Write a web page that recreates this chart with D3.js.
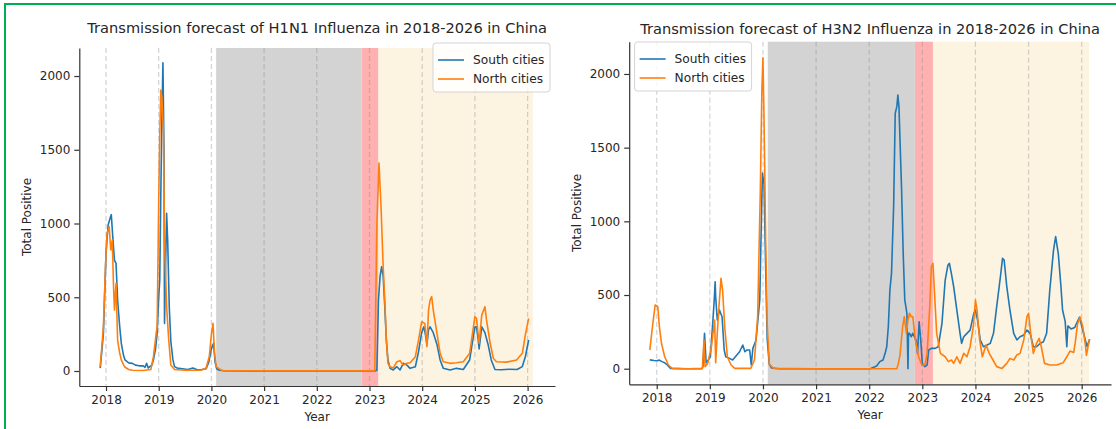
<!DOCTYPE html>
<html>
<head>
<meta charset="utf-8">
<script src="https://cdn.jsdelivr.net/npm/d3@7"></script>
<style>
  body { margin: 0; background: #fff; }
  text { font-family: "DejaVu Sans", sans-serif; fill: #262626; }
</style>
</head>
<body>
<svg id="drawing_region"></svg>
<script>
// tick values
const years = [2018, 2019, 2020, 2021, 2022, 2023, 2024, 2025, 2026];
const yTicks = [0, 500, 1000, 1500, 2000];
const seriesNames = ['South cities', 'North cities'];

// shaded periods: [covid gap, transition, forecast]
const h1n1Periods = [[2020.09, 2022.85], [2022.85, 2023.17], [2023.17, 2026.1]];
const h3n2Periods = [[2020.09, 2022.86], [2022.86, 2023.2], [2023.2, 2026.14]];

// H1N1 [year, total positive]
const h1n1South = [[2017.89, 20], [2017.95, 250], [2018.0, 800], [2018.04, 990], [2018.08, 1040], [2018.1, 1060], [2018.13, 900],
  [2018.16, 752], [2018.19, 730], [2018.22, 481], [2018.26, 300], [2018.29, 188], [2018.33, 110], [2018.36, 75], [2018.43, 55],
  [2018.5, 52], [2018.56, 40], [2018.63, 35], [2018.7, 36], [2018.74, 25], [2018.77, 52], [2018.8, 20], [2018.83, 29], [2018.87, 40],
  [2018.9, 75], [2018.94, 150], [2018.97, 255], [2019.0, 500], [2019.02, 620], [2019.04, 1200], [2019.06, 1700], [2019.08, 2090],
  [2019.1, 1500], [2019.11, 323], [2019.13, 700], [2019.15, 1069], [2019.17, 888], [2019.2, 436], [2019.23, 200], [2019.27, 75],
  [2019.3, 30], [2019.35, 20], [2019.45, 15], [2019.55, 10], [2019.65, 20], [2019.72, 10], [2019.8, 8], [2019.9, 15], [2019.95, 60],
  [2020.0, 150], [2020.04, 188], [2020.07, 60], [2020.1, 15], [2020.15, 5], [2020.25, 2], [2021.0, 0], [2022.0, 0], [2022.9, 0],
  [2023.1, 0], [2023.14, 5], [2023.17, 481], [2023.2, 640], [2023.23, 707], [2023.26, 640], [2023.29, 436], [2023.32, 210],
  [2023.35, 75], [2023.39, 18], [2023.45, 7], [2023.52, 29], [2023.58, 7], [2023.64, 52], [2023.71, 40], [2023.77, 18], [2023.87, 29],
  [2023.93, 130], [2023.99, 260], [2024.03, 300], [2024.06, 250], [2024.09, 180], [2024.12, 280], [2024.15, 300], [2024.21, 260],
  [2024.28, 180], [2024.34, 75], [2024.4, 18], [2024.53, 7], [2024.65, 18], [2024.78, 10], [2024.9, 75], [2025.0, 300], [2025.03, 300],
  [2025.06, 220], [2025.08, 150], [2025.13, 300], [2025.19, 260], [2025.25, 180], [2025.31, 75], [2025.38, 10], [2025.5, 8],
  [2025.65, 12], [2025.8, 10], [2025.9, 30], [2025.96, 100], [2026.02, 210]];

const h1n1North = [[2017.89, 29], [2017.95, 300], [2018.0, 800], [2018.02, 933], [2018.06, 978], [2018.09, 820], [2018.12, 888],
  [2018.14, 600], [2018.16, 413], [2018.19, 594], [2018.22, 210], [2018.26, 120], [2018.29, 75], [2018.35, 29], [2018.43, 10],
  [2018.5, 5], [2018.7, 3], [2018.85, 10], [2018.9, 97], [2018.95, 250], [2018.97, 300], [2019.0, 1159], [2019.02, 1600],
  [2019.04, 1905], [2019.06, 1860], [2019.09, 1611], [2019.11, 888], [2019.13, 662], [2019.15, 436], [2019.19, 210], [2019.23, 40],
  [2019.3, 10], [2019.5, 5], [2019.8, 5], [2019.9, 20], [2019.96, 100], [2020.0, 250], [2020.03, 323], [2020.06, 120], [2020.09, 30],
  [2020.13, 20], [2020.2, 3], [2021.0, 1], [2022.0, 1], [2023.1, 1], [2023.14, 1000], [2023.18, 1410], [2023.22, 1100],
  [2023.26, 700], [2023.29, 481], [2023.32, 210], [2023.35, 52], [2023.39, 29], [2023.45, 20], [2023.52, 63], [2023.58, 70],
  [2023.64, 40], [2023.71, 52], [2023.77, 56], [2023.87, 97], [2023.93, 210], [2023.99, 334], [2024.05, 323], [2024.09, 165],
  [2024.12, 413], [2024.15, 481], [2024.18, 504], [2024.21, 413], [2024.28, 255], [2024.34, 120], [2024.4, 63], [2024.53, 52],
  [2024.65, 56], [2024.78, 63], [2024.9, 120], [2025.0, 368], [2025.03, 357], [2025.08, 188], [2025.13, 379], [2025.19, 436],
  [2025.22, 346], [2025.29, 188], [2025.35, 86], [2025.41, 63], [2025.6, 60], [2025.79, 75], [2025.9, 120], [2025.96, 250],
  [2026.02, 357]];

// H3N2 [year, total positive]
const h3n2South = [[2017.87, 60], [2017.95, 56], [2018.0, 54], [2018.05, 58], [2018.1, 48], [2018.15, 40], [2018.2, 25],
  [2018.26, 2], [2018.5, 0], [2018.85, 0], [2018.87, 14], [2018.9, 240], [2018.93, 40], [2018.97, 60], [2019.01, 81], [2019.05, 285],
  [2019.08, 450], [2019.1, 590], [2019.11, 489], [2019.14, 330], [2019.18, 398], [2019.23, 353], [2019.27, 127], [2019.3, 81],
  [2019.37, 70], [2019.43, 59], [2019.5, 90], [2019.56, 115], [2019.62, 161], [2019.66, 115], [2019.7, 127], [2019.75, 127],
  [2019.78, 25], [2019.81, 138], [2019.87, 195], [2019.94, 466], [2019.97, 1000], [2019.99, 1328], [2020.02, 1250], [2020.05, 700],
  [2020.08, 200], [2020.12, 30], [2020.16, 5], [2020.3, 0], [2021.0, 0], [2022.02, 0], [2022.14, 18], [2022.2, 48], [2022.26, 59],
  [2022.3, 104], [2022.33, 149], [2022.36, 285], [2022.39, 534], [2022.42, 647], [2022.46, 1100], [2022.49, 1733], [2022.52, 1778],
  [2022.54, 1857], [2022.56, 1778], [2022.58, 1552], [2022.61, 1213], [2022.64, 783], [2022.67, 466], [2022.69, 421], [2022.71, 376],
  [2022.73, 0], [2022.74, 240], [2022.76, 240], [2022.79, 217], [2022.82, 240], [2022.88, 195], [2022.91, 104], [2022.94, 319],
  [2022.97, 195], [2023.0, 36], [2023.05, 14], [2023.09, 25], [2023.12, 127], [2023.17, 138], [2023.24, 138], [2023.3, 149],
  [2023.37, 308], [2023.43, 600], [2023.48, 700], [2023.51, 715], [2023.55, 640], [2023.59, 557], [2023.65, 398], [2023.71, 240],
  [2023.74, 172], [2023.78, 217], [2023.84, 240], [2023.9, 262], [2023.97, 376], [2024.0, 398], [2024.04, 330], [2024.09, 195],
  [2024.15, 149], [2024.22, 161], [2024.28, 172], [2024.34, 240], [2024.4, 421], [2024.47, 624], [2024.51, 749], [2024.54, 738],
  [2024.59, 557], [2024.65, 398], [2024.72, 240], [2024.78, 195], [2024.84, 217], [2024.91, 229], [2024.97, 262], [2025.03, 240],
  [2025.09, 149], [2025.15, 149], [2025.22, 172], [2025.28, 183], [2025.34, 240], [2025.4, 534], [2025.47, 805], [2025.51, 896],
  [2025.56, 780], [2025.61, 556], [2025.64, 398], [2025.69, 319], [2025.72, 150], [2025.74, 290], [2025.8, 270], [2025.87, 280],
  [2025.92, 320], [2025.96, 350], [2026.0, 290], [2026.05, 220], [2026.1, 150], [2026.15, 200]];

const h3n2North = [[2017.87, 127], [2017.92, 285], [2017.97, 432], [2018.02, 421], [2018.05, 285], [2018.09, 172], [2018.15, 81],
  [2018.22, 25], [2018.29, 2], [2018.6, 0], [2018.86, 2], [2018.89, 195], [2018.91, 14], [2018.96, 36], [2019.03, 149],
  [2019.09, 330], [2019.11, 40], [2019.14, 240], [2019.18, 466], [2019.21, 613], [2019.24, 534], [2019.28, 285], [2019.33, 81],
  [2019.4, 25], [2019.47, 2], [2019.77, 2], [2019.84, 59], [2019.9, 353], [2019.95, 1200], [2019.98, 1900], [2020.0, 2110],
  [2020.02, 1700], [2020.05, 900], [2020.08, 300], [2020.12, 30], [2020.2, 2], [2021.0, 0], [2022.52, 0], [2022.55, 36],
  [2022.58, 93], [2022.63, 285], [2022.66, 353], [2022.7, 240], [2022.73, 330], [2022.76, 376], [2022.79, 353], [2022.82, 353],
  [2022.87, 195], [2022.93, 81], [2022.99, 25], [2023.05, 25], [2023.09, 104], [2023.14, 421], [2023.17, 692], [2023.2, 715],
  [2023.23, 511], [2023.27, 240], [2023.34, 104], [2023.43, 81], [2023.49, 48], [2023.55, 59], [2023.59, 36], [2023.65, 81],
  [2023.71, 36], [2023.78, 104], [2023.84, 81], [2023.9, 149], [2023.96, 285], [2024.0, 466], [2024.03, 398], [2024.08, 195],
  [2024.13, 81], [2024.2, 161], [2024.26, 104], [2024.33, 59], [2024.4, 14], [2024.5, 2], [2024.59, 36], [2024.65, 70],
  [2024.72, 59], [2024.78, 93], [2024.84, 104], [2024.91, 195], [2024.97, 353], [2025.0, 376], [2025.04, 240], [2025.09, 104],
  [2025.15, 172], [2025.2, 206], [2025.24, 149], [2025.3, 36], [2025.4, 25], [2025.53, 25], [2025.65, 40], [2025.74, 93],
  [2025.78, 120], [2025.85, 110], [2025.88, 180], [2025.92, 300], [2025.97, 350], [2026.02, 285], [2026.07, 160], [2026.09, 90],
  [2026.12, 150], [2026.15, 200]];

class forecastChart {
    constructor(config, data) {
        this.config = config;
        this.data = data;
        this.init();
    }

    init() {
        let self = this;
        let c = self.config;
        self.chart = c.svg.append('g');

        self.xscale = d3.scaleLinear().domain(c.xDomain).range([c.left, c.right]);
        self.yscale = d3.scaleLinear().domain(c.yDomain).range([c.bottom, c.top]);
        self.colors = ['#1f77b4', '#ff7f0e'];
        self.spanColors = ['#d3d3d3', '#ffb0b0', '#fdf3e1'];
    }

    render() {
        let self = this;
        let c = self.config;

        // shaded periods
        self.chart.selectAll('.span')
            .data(self.data.periods)
            .enter().append('rect')
            .attr('x', d => self.xscale(d[0]))
            .attr('width', d => self.xscale(d[1]) - self.xscale(d[0]))
            .attr('y', c.top)
            .attr('height', c.bottom - c.top)
            .attr('fill', (d, i) => self.spanColors[i]);

        // year dashed lines
        self.chart.selectAll('.vline')
            .data(years)
            .enter().append('line')
            .attr('x1', d => self.xscale(d))
            .attr('x2', d => self.xscale(d))
            .attr('y1', c.top)
            .attr('y2', c.bottom)
            .attr('stroke', '#808080')
            .attr('stroke-opacity', 0.35)
            .attr('stroke-width', 1.2)
            .attr('stroke-dasharray', '5,3');

        var valueline = d3.line()
            .x(d => self.xscale(d[0]))
            .y(d => self.yscale(d[1]));

        self.data.series.forEach(function (s, i) {
            self.chart.append('path')
                .datum(s)
                .attr('d', valueline)
                .attr('fill', 'none')
                .attr('stroke', self.colors[i])
                .attr('stroke-width', 1.6)
                .attr('stroke-linejoin', 'round');
        });

        // axes
        let xaxis = d3.axisBottom(self.xscale).tickValues(years).tickFormat(d3.format('d'))
            .tickSize(5).tickSizeOuter(0).tickPadding(4);
        let yaxis = d3.axisLeft(self.yscale).tickValues(yTicks).tickFormat(d3.format('d'))
            .tickSize(5).tickSizeOuter(0).tickPadding(4);

        let xg = self.chart.append('g')
            .attr('transform', `translate(0, ${c.bottom})`)
            .call(xaxis);
        let yg = self.chart.append('g')
            .attr('transform', `translate(${c.left}, 0)`)
            .call(yaxis);
        [xg, yg].forEach(g => {
            g.selectAll('text').style('font-size', '12px').attr('fill', '#262626');
            g.selectAll('line, path').attr('stroke', '#333').attr('stroke-width', 1.2);
        });

        self.chart.append('text')
            .attr('x', (c.left + c.right) / 2)
            .attr('y', c.titleY)
            .attr('text-anchor', 'middle')
            .style('font-size', '14.6px')
            .text(c.title);

        self.chart.append('text')
            .attr('x', (c.left + c.right) / 2)
            .attr('y', c.bottom + 35)
            .attr('text-anchor', 'middle')
            .style('font-size', '12px')
            .text('Year');

        self.chart.append('text')
            .attr('transform', `translate(${c.ylabelX}, ${(c.top + c.bottom) / 2}) rotate(-90)`)
            .attr('text-anchor', 'middle')
            .style('font-size', '12px')
            .text('Total Positive');

        // legend
        let lg = self.chart.append('g')
            .attr('transform', `translate(${c.legend[0]}, ${c.legend[1]})`);
        lg.append('rect')
            .attr('width', 117).attr('height', 49)
            .attr('rx', 3)
            .attr('fill', '#fff').attr('fill-opacity', 0.85)
            .attr('stroke', '#d4d4d4');
        seriesNames.forEach(function (name, i) {
            lg.append('line')
                .attr('x1', 5).attr('x2', 31)
                .attr('y1', 17 + i * 19).attr('y2', 17 + i * 19)
                .attr('stroke', self.colors[i])
                .attr('stroke-width', 1.6);
            lg.append('text')
                .attr('x', 40).attr('y', 21 + i * 19)
                .style('font-size', '12.2px')
                .text(name);
        });
    }
}

const svg = d3.select('#drawing_region')
    .attr('width', 1116)
    .attr('height', 429);

svg.append('rect')
    .attr('x', 5).attr('y', 4)
    .attr('width', 1200).attr('height', 500)
    .attr('fill', 'none')
    .attr('stroke', '#00b050')
    .attr('stroke-width', 2);

const left = new forecastChart({
    svg: svg,
    title: 'Transmission forecast of H1N1 Influenza in 2018-2026 in China',
    left: 79.3, right: 555, top: 48, bottom: 386,
    xDomain: [2017.493, 2026.52], yDomain: [-101.7, 2190],
    titleY: 33, ylabelX: 31, legend: [433, 43]
}, { series: [h1n1South, h1n1North], periods: h1n1Periods });
left.render();

const right = new forecastChart({
    svg: svg,
    title: 'Transmission forecast of H3N2 Influenza in 2018-2026 in China',
    left: 629.2, right: 1111, top: 41.7, bottom: 384.3,
    xDomain: [2017.482, 2026.552], yDomain: [-105.9, 2219],
    titleY: 34, ylabelX: 581, legend: [634.6, 42]
}, { series: [h3n2South, h3n2North], periods: h3n2Periods });
right.render();
</script>
</body>
</html>
